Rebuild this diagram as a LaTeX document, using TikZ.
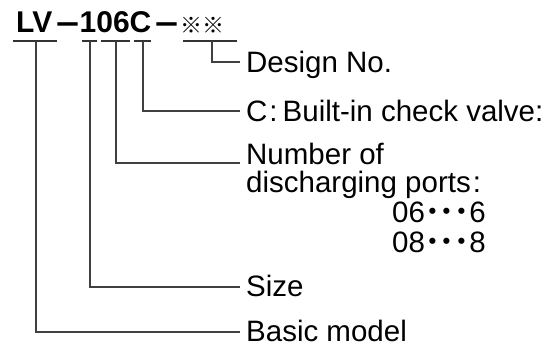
\documentclass[tikz,border=0pt]{standalone}
\usepackage{fontspec}
\setmainfont{Liberation Sans}
\newfontfamily\cjk{Noto Sans CJK JP}
\begin{document}
\begin{tikzpicture}[x=1pt,y=-1pt,
  title/.style={inner sep=0pt, anchor=base west, font=\fontsize{30}{30}\selectfont\bfseries},
  dashtxt/.style={inner sep=0pt, anchor=base, font=\fontsize{29}{29}\selectfont\cjk\bfseries},
  marktxt/.style={inner sep=0pt, anchor=base west, font=\fontsize{22}{22}\selectfont\cjk},
  lbl/.style={inner sep=0pt, anchor=base west, font=\fontsize{29.5}{30}\selectfont},
  ul/.style={line width=1.3pt, draw=black!80},
  conn/.style={line width=1.3pt, draw=black!75}]
\useasboundingbox (0,0) rectangle (558,347);

% title
\node[title] (tLV) at (16,33) {LV};
\node[dashtxt] (d1) at (67.5,36) {－};
\node[title] (t106C) at (79.5,33) {106C};
\node[dashtxt] (d2) at (166.5,36) {－};
\node[marktxt] (tMark) at (180,34) {※※};

% underlines
\coordinate (uLV) at (36,41);
\coordinate (uSize) at (90,41);
\coordinate (uPorts) at (116,41);
\coordinate (uC) at (143,41);
\coordinate (uMark) at (212,41);
\draw[ul] (13,41) -- (57,41);
\draw[ul] (82,41) -- (97,41);
\draw[ul] (101,41) -- (130,41);
\draw[ul] (134,41) -- (151,41);
\draw[ul] (183,41) -- (237,41);

% labels
\node[lbl] (lDesign) at (246,73) {Design No.};
\node[lbl] (lC) at (246,122) {C\kern2pt:\kern5pt Built-in check valve:};
\node[lbl] (lNum) at (246,165) {Number of};
\node[lbl] (lNum2) at (246,193) {discharging ports\kern2pt:};
\node[lbl] (l06) at (392,223) {06{\cjk\bfseries ･･･}6};
\node[lbl] (l08) at (392,253) {08{\cjk\bfseries ･･･}8};
\node[lbl] (lSize) at (246,297) {Size};
\node[lbl] (lBasic) at (246,342) {Basic model};

% connectors
\draw[conn] (uMark) |- ([xshift=-6pt,yshift=11pt]lDesign.base west);
\draw[conn] (uC) |- ([xshift=-6pt,yshift=11pt]lC.base west);
\draw[conn] (uPorts) |- ([xshift=-6pt,yshift=2pt]lNum.base west);
\draw[conn] (uSize) |- ([xshift=-6pt,yshift=10pt]lSize.base west);
\draw[conn] (uLV) |- ([xshift=-6pt,yshift=10pt]lBasic.base west);
\end{tikzpicture}
\end{document}
